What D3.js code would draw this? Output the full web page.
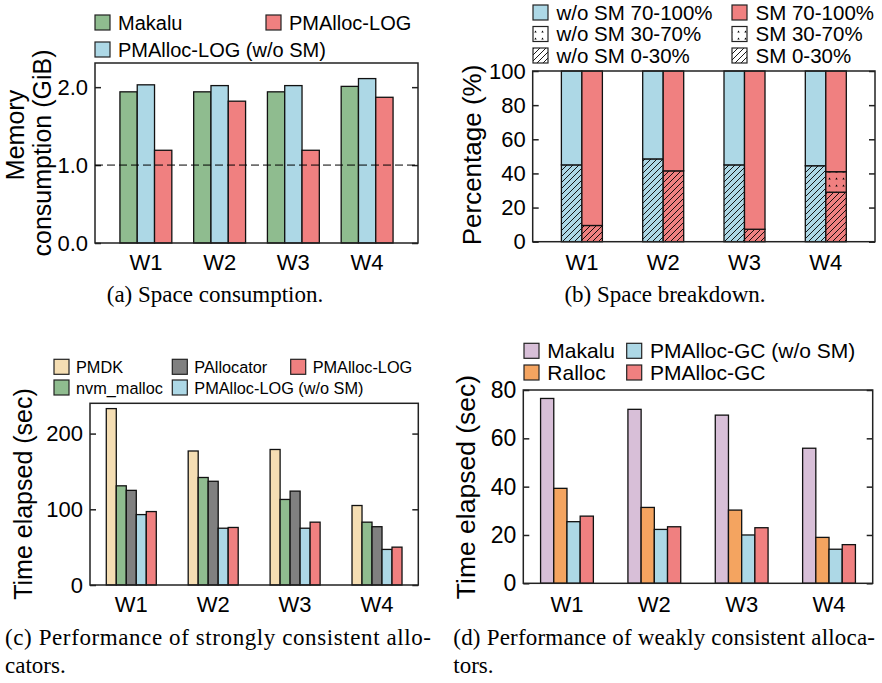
<!DOCTYPE html>
<html>
<head>
<meta charset="utf-8">
<script src="https://cdnjs.cloudflare.com/ajax/libs/d3/7.8.5/d3.min.js"></script>
<style>
  body { margin: 0; background: #fff; }
  text { font-family: "Liberation Sans", Arial, Helvetica, sans-serif; }
  .caption { font-family: "Liberation Serif", "Times New Roman", serif; }
</style>
</head>
<body>
<div id="fig"></div>
<script>
var workloads = ['W1', 'W2', 'W3', 'W4'];

// (a) memoria usada, GiB
var space_series = ['Makalu', 'PMAlloc-LOG (w/o SM)', 'PMAlloc-LOG'];
var space_makalu = [1.94, 1.94, 1.94, 2.01];
var space_log_nosm = [2.03, 2.02, 2.02, 2.11];
var space_log = [1.19, 1.82, 1.19, 1.87];
var space_ticks = [0, 1, 2];

// (b) desglose en %, tres tramos por barra
var tramos = ['0-30%', '30-70%', '70-100%'];
var nosm_0_30 = [45, 48.5, 45, 44.5];
var nosm_30_70 = [0, 0, 0, 0];
var nosm_70_100 = [55, 51.5, 55, 55.5];
var sm_0_30 = [9.5, 41.5, 7.3, 29];
var sm_30_70 = [0, 0, 0, 12];
var sm_70_100 = [90.5, 58.5, 92.7, 59];
var pct_ticks = [0, 20, 40, 60, 80, 100];

// (c) tiempo, asignadores fuertemente consistentes
var strong_series = ['PMDK', 'nvm_malloc', 'PAllocator', 'PMAlloc-LOG (w/o SM)', 'PMAlloc-LOG'];
var t_pmdk = [233, 177, 179, 105];
var t_nvm = [131, 142, 113, 83];
var t_palloc = [125, 137, 124, 77];
var t_log_nosm = [93, 75, 75, 47];
var t_log = [97, 76, 83, 50];
var strong_ticks = [0, 100, 200];

// (d) tiempo, asignadores debilmente consistentes
var weak_series = ['Makalu', 'Ralloc', 'PMAlloc-GC (w/o SM)', 'PMAlloc-GC'];
var t_makalu = [76.5, 72, 69.6, 55.9];
var t_ralloc = [39.3, 31.4, 30.3, 19];
var t_gc_nosm = [25.5, 22.3, 20, 14.1];
var t_gc = [27.8, 23.4, 23, 16];
var weak_ticks = [0, 20, 40, 60, 80];

var c_green = '#8fbc8f', c_blue = '#add8e6', c_red = '#f08080', c_wheat = '#f5deb3',
    c_gray = '#808080', c_thistle = '#d8bfd8', c_orange = '#f4a460';
var c_line = '#222';

var svg = d3.select('#fig').append('svg').attr('width', 882).attr('height', 683);
var defs = svg.append('defs');

// patrones: rayado "/" y puntos
function hatch(id, fill) {
    var p = defs.append('pattern').attr('id', id).attr('patternUnits', 'userSpaceOnUse')
        .attr('width', 6).attr('height', 6);
    p.append('rect').attr('width', 6).attr('height', 6).attr('fill', fill);
    p.append('path').attr('d', 'M-1,1 l2,-2 M0,6 l6,-6 M5,7 l2,-2')
        .attr('stroke', '#000').attr('stroke-width', 0.9);
}
function dots(id, fill) {
    var p = defs.append('pattern').attr('id', id).attr('patternUnits', 'userSpaceOnUse')
        .attr('width', 7).attr('height', 7);
    p.append('rect').attr('width', 7).attr('height', 7).attr('fill', fill);
    p.append('path').attr('d', 'M2.3,4.6 L3.5,2.4 L4.7,4.6Z').attr('fill', '#000');
}
hatch('hatch_blue', c_blue); hatch('hatch_red', c_red); hatch('hatch_white', '#fff');
dots('dots_blue', c_blue); dots('dots_red', c_red); dots('dots_white', '#fff');

// ejes + marco comun a los cuatro graficos
function panel(o) {
    var scale_x = d3.scalePoint().domain(workloads).range([o.x0, o.x1]).padding(o.pad);
    var scale_y = d3.scaleLinear().domain([0, o.max]).range([o.y1, o.y0]);
    var g = svg.append('g');
    var marks = g.append('g');
    var ejes = g.append('g');

    ejes.append('g').attr('transform', 'translate(' + o.x0 + ',0)')
        .call(d3.axisLeft(scale_y).tickValues(o.ticks).tickSize(-6).tickPadding(7).tickFormat(o.fmt))
        .call(function (a) { a.select('.domain').remove(); })
        .attr('font-size', o.tick_font).attr('font-family', null);
    ejes.append('g').attr('transform', 'translate(' + o.x1 + ',0)')
        .call(d3.axisRight(scale_y).tickValues(o.ticks).tickSize(-6).tickFormat(''))
        .call(function (a) { a.select('.domain').remove(); });
    ejes.selectAll('.tick line').attr('stroke', c_line).attr('stroke-width', 1.5);
    ejes.selectAll('.tick text').attr('fill', '#000');

    ejes.append('rect').attr('x', o.x0).attr('y', o.y0)
        .attr('width', o.x1 - o.x0).attr('height', o.y1 - o.y0)
        .attr('fill', 'none').attr('stroke', c_line).attr('stroke-width', 1.5);

    ejes.selectAll('.wl').data(workloads).enter().append('text')
        .attr('x', function (d) { return scale_x(d); })
        .attr('y', o.xlab_y)
        .attr('text-anchor', 'middle').attr('font-size', 22)
        .text(function (d) { return d; });

    return { x: scale_x, y: scale_y, marks: marks, ejes: ejes };
}

function grouped(p, series, values, colors, bar_w) {
    var n = series.length;
    var inner = d3.scaleBand().domain(series).range([-n * bar_w / 2, n * bar_w / 2]);
    series.forEach(function (s, k) {
        p.marks.selectAll(null).data(values[k]).enter().append('rect')
            .attr('x', function (d, i) { return p.x(workloads[i]) + inner(s); })
            .attr('y', function (d) { return p.y(d); })
            .attr('width', inner.bandwidth())
            .attr('height', function (d) { return p.y(0) - p.y(d); })
            .attr('fill', colors[k]).attr('stroke', '#111').attr('stroke-width', 1.3);
    });
}

function legend(items, cols_x, rows_y, nrows, dx, font, base) {
    var g = svg.append('g');
    items.forEach(function (it, k) {
        var col = Math.floor(k / nrows), row = k % nrows;
        var x = cols_x[col], y = rows_y[row];
        g.append('rect').attr('x', x).attr('y', y).attr('width', 15).attr('height', 15)
            .attr('fill', it.fill).attr('stroke', '#222').attr('stroke-width', 1.2);
        g.append('text').attr('x', x + dx).attr('y', y + base)
            .attr('font-size', font).text(it.label);
    });
}

function ylabel(txt, x, y, size) {
    svg.append('text').attr('transform', 'translate(' + x + ',' + y + ') rotate(-90)')
        .attr('text-anchor', 'middle').attr('font-size', size).text(txt);
}

function caption(lines, x, y, anchor, len) {
    lines.forEach(function (l, i) {
        var t = svg.append('text').attr('class', 'caption')
            .attr('x', x).attr('y', y + i * 28).attr('font-size', 23)
            .attr('text-anchor', anchor).text(l);
        if (len && i < lines.length - 1) t.attr('textLength', len).attr('lengthAdjust', 'spacing');
    });
}

// ---------- (a) ----------
var pa = panel({ x0: 95, x1: 418, y0: 63, y1: 243, max: 2.31, pad: 0.69,
    ticks: space_ticks, fmt: d3.format('.1f'), tick_font: 22, xlab_y: 270 });
grouped(pa, space_series, [space_makalu, space_log_nosm, space_log], [c_green, c_blue, c_red], 17.3);
pa.ejes.append('line').attr('x1', 95).attr('x2', 418)
    .attr('y1', pa.y(1)).attr('y2', pa.y(1))
    .attr('stroke', '#000').attr('stroke-width', 1).attr('stroke-dasharray', '8,4');
legend([{ label: 'Makalu', fill: c_green }, { label: 'PMAlloc-LOG (w/o SM)', fill: c_blue },
        { label: 'PMAlloc-LOG', fill: c_red }], [95, 266], [15, 42], 2, 23, 20, 14.5);
ylabel('Memory', 24, 135, 25);
ylabel('consumption (GiB)', 51, 153, 25);
caption(['(a) Space consumption.'], 215, 302, 'middle');

// ---------- (b) ----------
var pb = panel({ x0: 532.7, x1: 875, y0: 71, y1: 241.7, max: 100, pad: 0.605,
    ticks: pct_ticks, fmt: d3.format('d'), tick_font: 22, xlab_y: 270 });
var bw = 20.5;
var stack = d3.stack().keys(tramos);
function filas(a, b, c) {
    return workloads.map(function (w, i) {
        var r = { w: w }; r[tramos[0]] = a[i]; r[tramos[1]] = b[i]; r[tramos[2]] = c[i]; return r;
    });
}
var stacks = [
    { data: stack(filas(nosm_0_30, nosm_30_70, nosm_70_100)), dx: -bw,
      fills: ['url(#hatch_blue)', 'url(#dots_blue)', c_blue] },
    { data: stack(filas(sm_0_30, sm_30_70, sm_70_100)), dx: 0,
      fills: ['url(#hatch_red)', 'url(#dots_red)', c_red] }
];
stacks.forEach(function (st) {
    st.data.forEach(function (serie, k) {
        pb.marks.selectAll(null).data(serie.filter(function (d) { return d[1] - d[0] > 0; }))
            .enter().append('rect')
            .attr('x', function (d) { return pb.x(d.data.w) + st.dx; })
            .attr('y', function (d) { return pb.y(d[1]); })
            .attr('width', bw)
            .attr('height', function (d) { return pb.y(d[0]) - pb.y(d[1]); })
            .attr('fill', st.fills[k]).attr('stroke', '#111').attr('stroke-width', 1.3);
    });
});
legend([{ label: 'w/o SM 70-100%', fill: c_blue }, { label: 'w/o SM 30-70%', fill: 'url(#dots_white)' },
        { label: 'w/o SM 0-30%', fill: 'url(#hatch_white)' }, { label: 'SM 70-100%', fill: c_red },
        { label: 'SM 30-70%', fill: 'url(#dots_white)' }, { label: 'SM 0-30%', fill: 'url(#hatch_white)' }],
       [533, 732], [5, 26.5, 48], 3, 23.5, 20.5, 14.5);
ylabel('Percentage (%)', 481, 155, 26);
caption(['(b) Space breakdown.'], 665, 302, 'middle');

// ---------- (c) ----------
var pc = panel({ x0: 90, x1: 418.3, y0: 403.3, y1: 585, max: 240, pad: 0.504,
    ticks: strong_ticks, fmt: d3.format('d'), tick_font: 22, xlab_y: 612 });
grouped(pc, strong_series, [t_pmdk, t_nvm, t_palloc, t_log_nosm, t_log],
        [c_wheat, c_green, c_gray, c_blue, c_red], 10);
legend([{ label: 'PMDK', fill: c_wheat }, { label: 'nvm_malloc', fill: c_green },
        { label: 'PAllocator', fill: c_gray }, { label: 'PMAlloc-LOG (w/o SM)', fill: c_blue },
        { label: 'PMAlloc-LOG', fill: c_red }], [54, 172.3, 290.7], [359.3, 380], 2, 22, 16.3, 14);
ylabel('Time elapsed (sec)', 31.5, 494, 25);
caption(['(c) Performance of strongly consistent allo-', 'cators.'], 5, 645, 'start', 426);

// ---------- (d) ----------
var pd = panel({ x0: 523.3, x1: 872.7, y0: 390, y1: 583.3, max: 80, pad: 0.5,
    ticks: weak_ticks, fmt: d3.format('d'), tick_font: 23, xlab_y: 612 });
grouped(pd, weak_series, [t_makalu, t_ralloc, t_gc_nosm, t_gc],
        [c_thistle, c_orange, c_blue, c_red], 13.2);
legend([{ label: 'Makalu', fill: c_thistle }, { label: 'Ralloc', fill: c_orange },
        { label: 'PMAlloc-GC (w/o SM)', fill: c_blue }, { label: 'PMAlloc-GC', fill: c_red }],
       [524, 626.7], [343.3, 365], 2, 23.3, 21, 15);
ylabel('Time elapsed (sec)', 475, 487, 26.5);
caption(['(d) Performance of weakly consistent alloca-', 'tors.'], 453.3, 645, 'start', 421.7);
</script>
</body>
</html>
